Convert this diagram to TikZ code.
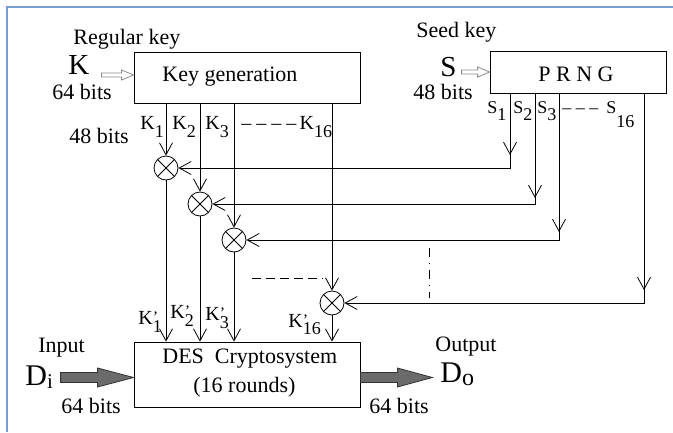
\documentclass[tikz,border=0pt]{standalone}
\usepackage{fontspec}
\setmainfont{Liberation Serif}
\usetikzlibrary{arrows.meta,calc}
\newcommand{\mysub}[2][8pt]{\raisebox{-#1}{\fontsize{18}{18}\selectfont #2}}
\newcommand{\myprime}{\rlap{\raisebox{2pt}{\fontsize{16}{16}\selectfont ’}}}
\begin{document}
\begin{tikzpicture}[x=1pt,y=-1pt,
  line width=0.8pt,
  font=\fontsize{22}{26}\selectfont,
  box/.style={draw, rectangle, inner sep=0pt},
  xor/.style={draw, circle, minimum size=24pt, inner sep=0pt,
    path picture={\draw (path picture bounding box.north east) -- (path picture bounding box.south west)
                        (path picture bounding box.north west) -- (path picture bounding box.south east);}},
  arr/.style={-{Straight Barb[length=12pt,width=13pt]}},
  lbl/.style={inner sep=0pt, anchor=base west},
  klbl/.style={lbl, font=\fontsize{20}{22}\selectfont},
  slbl/.style={lbl, font=\fontsize{18}{20}\selectfont},
  big/.style={lbl, font=\fontsize{29}{32}\selectfont},
  hollow/.style={draw=black!45, fill=white, line width=0.8pt},
  thick arrow/.style={fill=black!58, draw=black!80, line width=0.8pt},
]
\useasboundingbox (0,0) rectangle (673,432);
% frame
\draw[color={rgb,255:red,120;green,155;blue,210}, line width=2pt] (7,432) -- (7,7) -- (673,7);

% boxes
\node[box, minimum width=226pt, minimum height=51pt] (kg) at (247,77.5) {};
\node[box, minimum width=176pt, minimum height=42pt] (prng) at (578,72) {};
\node[box, minimum width=226pt, minimum height=65pt] (des) at (247,374.5) {};

\node[lbl] (kgt) at (162,81) {Key generation};
\node[lbl] (prngt) at (538,81) {P R N G};
\node[lbl] (dest) at (162,363) {DES~~Cryptosystem};
\node[lbl] (desr) at (193,392) {(16 rounds)};

% top-left labels
\node[lbl] (regk) at (73,44) {Regular key};
\node[big] (K) at (68,74) {K};
\node[lbl] (kbits) at (52,99) {64 bits};
\node[lbl] (k48) at (69,143) {48 bits};

% top-right labels
\node[lbl] (seedk) at (416,37) {Seed key};
\node[big] (S) at (440,76) {S};
\node[lbl] (sbits) at (413,99) {48 bits};

% hollow arrows
\draw[hollow] ([yshift=2.5pt]kg.west) -- ++(-12,-5) -- ++(0,3) -- ++(-20,0) -- ++(0,4) -- ++(20,0) -- ++(0,3) -- cycle;
\draw[hollow] ([yshift=0pt]prng.west) -- ++(-12,-5) -- ++(0,3) -- ++(-16,0) -- ++(0,4) -- ++(16,0) -- ++(0,3) -- cycle;

% key labels
\node[klbl] (k1) at (140,129) {K\mysub{1}};
\node[klbl] (k2) at (172,129) {K\mysub{2}};
\node[klbl] (k3) at (205,129) {K\mysub{3}};
\node[klbl] (k16) at (241,129) {– – – –\,K\mysub{16}};

\node[slbl] (s1l) at (487,113) {S\mysub[7pt]{1}};
\node[slbl] (s2l) at (513,113) {S\mysub[7pt]{2}};
\node[slbl] (s3l) at (537,113) {S\mysub[7pt]{3}};
\node[slbl] (s16l) at (562,113) {– – –\hspace{8pt}S\mysub[14pt]{16}};

% xor nodes
\node[xor] (x1) at (166,168) {};
\node[xor] (x2) at (200,204) {};
\node[xor] (x3) at (234,240) {};
\node[xor] (x16) at (332,303) {};

% key lines
\foreach \n in {x1,x2,x3,x16}{
  \draw[arr] (\n |- kg.south) -- (\n);
  \draw[arr] (\n) -- (\n |- des.north);
}

% seed lines
\coordinate (s1) at (510,93);
\coordinate (s2) at (535,93);
\coordinate (s3) at (559,93);
\coordinate (s16) at (644,93);
\draw[arr] (s1) -- ($(s1 |- x1)+(0,-13)$);
\draw[arr] (s1) -- (s1 |- x1) -- (x1);
\draw[arr] (s2) -- ($(s2 |- x2)+(0,-6)$);
\draw[arr] (s2) -- (s2 |- x2) -- (x2);
\draw[arr] (s3) -- ($(s3 |- x3)+(0,-8)$);
\draw[arr] (s3) -- (s3 |- x3) -- (x3);
\draw[arr] (s16) -- ($(s16 |- x16)+(0,-13)$);
\draw[arr] (s16) -- (s16 |- x16) -- (x16);

% dashed continuation marks
\draw[dash pattern=on 9pt off 5pt] (252,278) -- (323,278);
\draw[dash pattern=on 9pt off 6pt on 1pt off 6pt] (429,248) -- (429,298);

% bottom key labels
\node[klbl] (kp1) at (138,324) {K\myprime\mysub{1}};
\node[klbl] (kp2) at (170,318) {K\myprime\mysub{2}};
\node[klbl] (kp3) at (205,320) {K\myprime\mysub{3}};
\node[klbl] (kp16) at (288,327) {K\myprime\mysub[7pt]{16}};

% input / output
\node[lbl] (inp) at (38,352) {Input};
\node[big, font=\fontsize{30}{32}\selectfont] (Di) at (25,385) {D\raisebox{-3pt}{\fontsize{21}{21}\selectfont i}};
\node[lbl] (ibits) at (61,413) {64 bits};
\node[lbl] (outp) at (435,351) {Output};
\node[big, font=\fontsize{30}{32}\selectfont] (Do) at (440,382) {D\raisebox{-3pt}{\fontsize{24}{24}\selectfont o}};
\node[lbl] (obits) at (369,413) {64 bits};

\draw[thick arrow] ([yshift=-3pt]des.west) -- ++(-36,-9.5) -- ++(0,4.5) -- ++(-37,0) -- ++(0,10) -- ++(37,0) -- ++(0,4.5) -- cycle;
\draw[thick arrow] ([yshift=-3pt]des.east) ++(0,-5) -- ++(37,0) -- ++(0,-4.5) -- ++(35,9.5) -- ++(-35,9.5) -- ++(0,-4.5) -- ++(-37,0) -- cycle;
\end{tikzpicture}
\end{document}
